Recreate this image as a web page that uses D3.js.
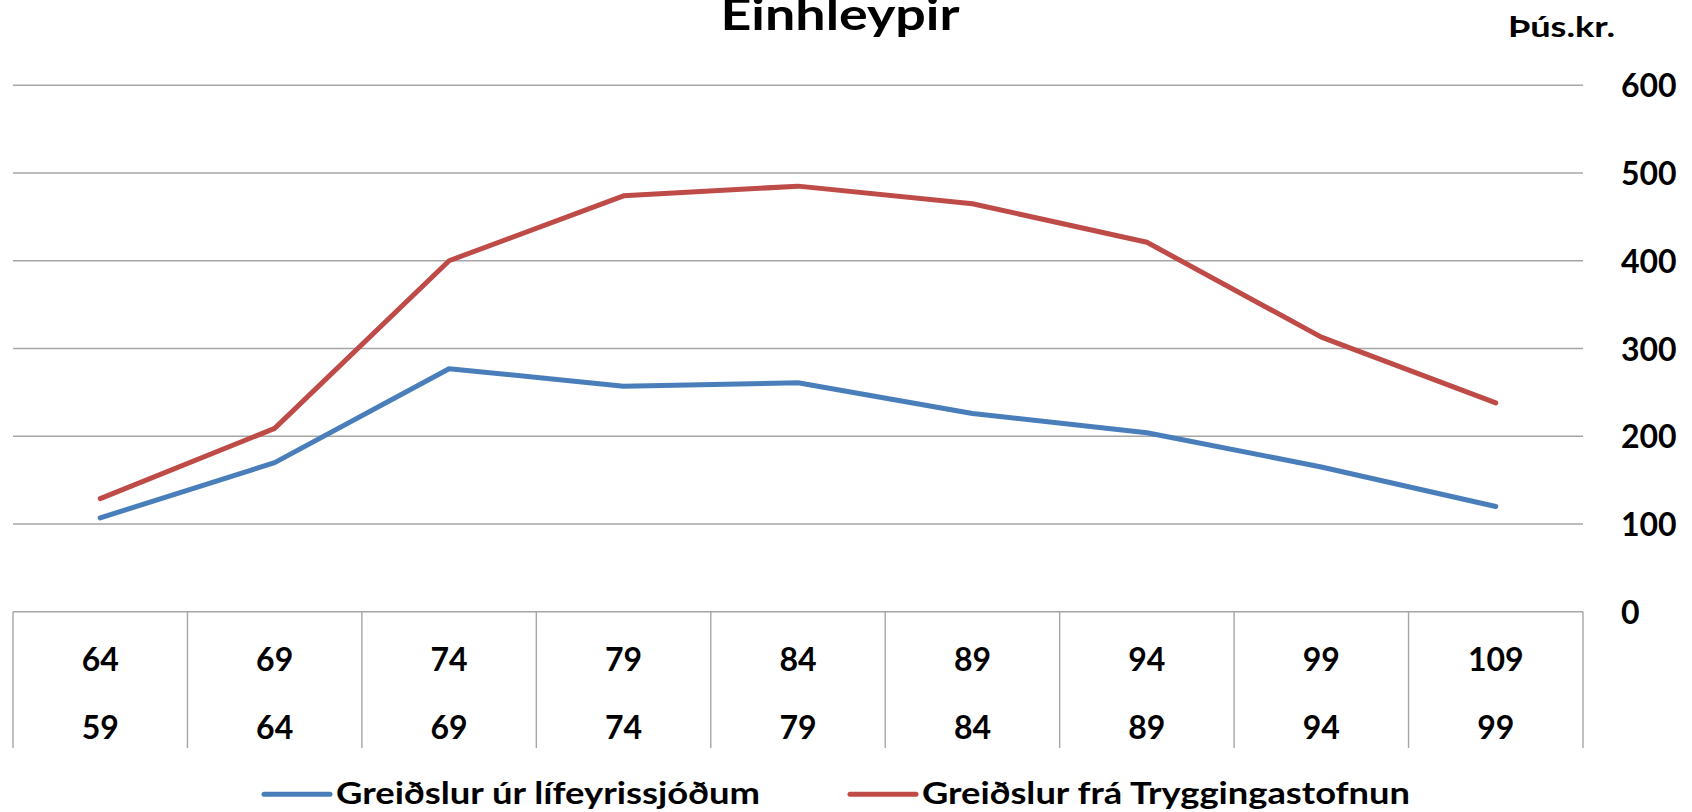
<!DOCTYPE html>
<html>
<head>
<meta charset="utf-8">
<script src="https://cdn.jsdelivr.net/npm/d3@7"></script>
<style>
  html, body { margin: 0; padding: 0; background: #ffffff; }
  svg { display: block; }
  text { font-family: Lato, "Noto Sans", sans-serif; font-weight: bold; fill: #000; }
</style>
</head>
<body>
<svg id="chart" width="1692" height="812"></svg>
<script>
// ---- data ----
const title = "Einhleypir";
const unitLabel = "Þús.kr.";
const catTop    = ["64", "69", "74", "79", "84", "89", "94", "99", "109"];
const catBottom = ["59", "64", "69", "74", "79", "84", "89", "94", "99"];
const seriesNames = ["Greiðslur úr lífeyrissjóðum", "Greiðslur frá Tryggingastofnun"];
const lifeyrir  = [107, 170, 277, 257, 261, 226, 204, 165, 120];
const trygging  = [129, 209, 400, 474, 485, 465, 421, 313, 238];
const yTicks    = [0, 100, 200, 300, 400, 500, 600];

// ---- layout ----
const plotL = 13, plotR = 1583, plotT = 85.2, plotB = 611.8;
const tableB = 748;
const colors = ["#4A7EBB", "#BE4B48"];
const gridColor = "#A6A6A6";

const svg = d3.select("#chart");

const x = d3.scaleBand().domain(d3.range(catTop.length)).range([plotL, plotR]).padding(0);
const y = d3.scaleLinear().domain([0, 600]).range([plotB, plotT]);

// gridlines
svg.append("g")
  .selectAll("line")
  .data(yTicks)
  .join("line")
  .attr("x1", plotL).attr("x2", plotR)
  .attr("y1", d => y(d)).attr("y2", d => y(d))
  .attr("stroke", gridColor).attr("stroke-width", 1.4);

// table vertical separators
const bounds = d3.range(catTop.length + 1).map(i => i < catTop.length ? x(i) : x(catTop.length - 1) + x.bandwidth());
svg.append("g")
  .selectAll("line")
  .data(bounds)
  .join("line")
  .attr("x1", d => d).attr("x2", d => d)
  .attr("y1", plotB).attr("y2", tableB)
  .attr("stroke", gridColor).attr("stroke-width", 1.4);

// category labels (two rows)
const cx = i => x(i) + x.bandwidth() / 2;
svg.append("g").selectAll("text")
  .data(catTop).join("text")
  .attr("x", (d, i) => cx(i)).attr("y", 659).attr("dy", "0.36em")
  .attr("text-anchor", "middle").attr("font-size", 32)
  .text(d => d);
svg.append("g").selectAll("text")
  .data(catBottom).join("text")
  .attr("x", (d, i) => cx(i)).attr("y", 727.5).attr("dy", "0.36em")
  .attr("text-anchor", "middle").attr("font-size", 32)
  .text(d => d);

// right y axis labels
const yAxis = d3.axisRight(y).tickValues(yTicks).tickSize(0).tickPadding(0).tickFormat(d3.format("d"));
const ya = svg.append("g").attr("transform", "translate(1621,0)").call(yAxis);
ya.select(".domain").remove();
ya.selectAll("text")
  .attr("x", 0)
  .attr("font-size", 32).attr("font-family", "Lato, 'Noto Sans', sans-serif")
  .attr("font-weight", "bold").attr("fill", "#000")
  .attr("dy", "0.36em");

// series lines
const line = d3.line().x((d, i) => cx(i)).y(d => y(d));
[lifeyrir, trygging].forEach((s, k) => {
  svg.append("path")
    .datum(s)
    .attr("d", line)
    .attr("fill", "none")
    .attr("stroke", colors[k])
    .attr("stroke-width", 5)
    .attr("stroke-linejoin", "round")
    .attr("stroke-linecap", "round");
});

// title
svg.append("text")
  .attr("x", 840).attr("y", 29.5)
  .attr("text-anchor", "middle").attr("font-size", 44)
  .attr("textLength", 239).attr("lengthAdjust", "spacingAndGlyphs")
  .text(title);

// unit label
svg.append("text")
  .attr("x", 1508).attr("y", 36.7)
  .attr("font-size", 29)
  .attr("textLength", 107).attr("lengthAdjust", "spacingAndGlyphs")
  .text(unitLabel);

// legend
const legendItems = [
  { x: 264, name: seriesNames[0], color: colors[0], w: 424 },
  { x: 850, name: seriesNames[1], color: colors[1], w: 488 }
];
const lg = svg.append("g");
legendItems.forEach(it => {
  lg.append("line")
    .attr("x1", it.x).attr("x2", it.x + 66)
    .attr("y1", 794.3).attr("y2", 794.3)
    .attr("stroke", it.color).attr("stroke-width", 5)
    .attr("stroke-linecap", "round");
  lg.append("text")
    .attr("x", it.x + 72).attr("y", 804.3)
    .attr("font-size", 30)
    .attr("textLength", it.w).attr("lengthAdjust", "spacingAndGlyphs")
    .text(it.name);
});
</script>
</body>
</html>
